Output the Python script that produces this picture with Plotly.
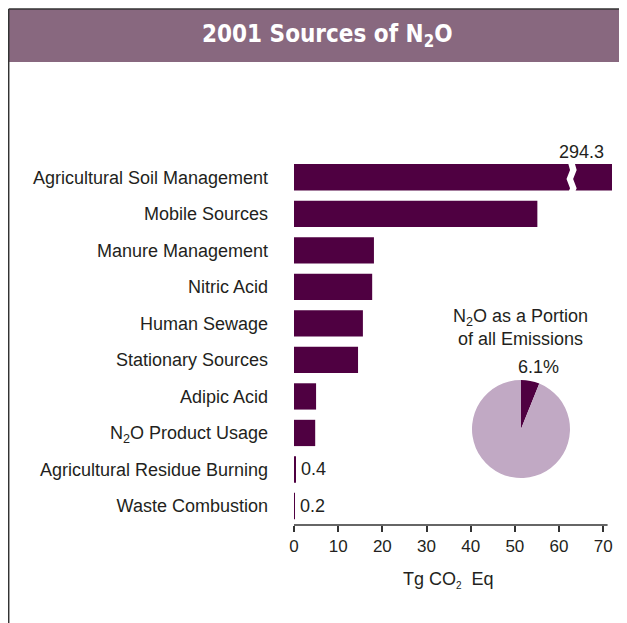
import plotly.graph_objects as go

categories = ["Agricultural Soil Management", "Mobile Sources", "Manure Management",
              "Nitric Acid", "Human Sewage", "Stationary Sources", "Adipic Acid",
              "N<sub>2</sub>O Product Usage", "Agricultural Residue Burning", "Waste Combustion"]
values = [294.3, 55.1, 18.1, 17.7, 15.6, 14.5, 5.0, 4.8, 0.4, 0.2]
bar_labels = ["294.3", "", "", "", "", "", "", "", "0.4", "0.2"]
x_ticks = [0, 10, 20, 30, 40, 50, 60, 70]
pie_labels = ["N2O", "Other"]
pie_values = [6.1, 93.9]

OFF = 8  # page body margin
W, H = 627 - OFF, 623 - OFF
L, R, T, B = 286, 15, 151, 98
XMAX = 72
BAR = "#4F0041"
LIGHT = "#C1A9C4"
TXT = "#231F20"
FONT = "Liberation Sans, Arial, sans-serif"
FS = 18

pw = W - L - R
ph = H - T - B
def px2paper_x(p):  # p = screen pixel
    return (p - OFF - L) / pw
def px2paper_y(p):
    return (H - B - (p - OFF)) / ph

ypos = list(range(len(categories)))
disp = [min(v, XMAX) for v in values]

fig = go.Figure()
fig.add_trace(go.Bar(x=disp, y=ypos, orientation="h", marker=dict(color=BAR, line=dict(width=0)),
                     width=0.72, hoverinfo="skip", showlegend=False))

fig.add_trace(go.Pie(values=pie_values, labels=pie_labels, sort=False, direction="clockwise",
                     rotation=0, marker=dict(colors=[BAR, LIGHT], line=dict(width=0)),
                     textinfo="none", hoverinfo="skip", showlegend=False,
                     domain=dict(x=[px2paper_x(472), px2paper_x(570)],
                                 y=[px2paper_y(478), px2paper_y(380)])))

ann = []
for i, (v, t) in enumerate(zip(disp, bar_labels)):
    if not t:
        continue
    if values[i] > XMAX:
        ann.append(dict(x=v, y=i, xref="x", yref="y", text=t, showarrow=False,
                        xanchor="right", yanchor="bottom", xshift=-6, yshift=13,
                        font=dict(size=FS, color=TXT, family=FONT)))
    else:
        ann.append(dict(x=v, y=i, xref="x", yref="y", text=t, showarrow=False,
                        xanchor="left", yanchor="middle", xshift=3,
                        font=dict(size=FS, color=TXT, family=FONT)))

# title band text
ann.append(dict(x=px2paper_x(327), y=px2paper_y(35), xref="paper", yref="paper",
                text="<b>2001 Sources of N<sub>2</sub>O</b>", showarrow=False,
                xanchor="center", yanchor="middle",
                font=dict(size=24, color="white", family="DejaVu Sans Condensed, sans-serif")))
# pie title
ann.append(dict(x=px2paper_x(520), y=px2paper_y(327), xref="paper", yref="paper",
                text="N<sub>2</sub>O as a Portion<br>of all Emissions", showarrow=False,
                xanchor="center", yanchor="middle", align="center",
                font=dict(size=FS, color=TXT, family=FONT)))
ann.append(dict(x=px2paper_x(538), y=px2paper_y(367), xref="paper", yref="paper",
                text="6.1%", showarrow=False, xanchor="center", yanchor="middle",
                font=dict(size=FS, color=TXT, family=FONT)))
# x axis title
ann.append(dict(x=px2paper_x(448), y=px2paper_y(580), xref="paper", yref="paper",
                text="Tg CO<sub><span style='font-size:10px'>2</span></sub>  Eq", showarrow=False,
                xanchor="center", yanchor="middle",
                font=dict(size=FS, color=TXT, family=FONT)))

shapes = [
    dict(type="rect", xref="paper", yref="paper", x0=px2paper_x(8), x1=px2paper_x(640),
         y0=px2paper_y(62), y1=px2paper_y(9), fillcolor="#88687F", line=dict(width=0), layer="below"),
    dict(type="line", xref="paper", yref="paper", x0=px2paper_x(8.7), x1=px2paper_x(640),
         y0=px2paper_y(9), y1=px2paper_y(9), line=dict(color="#333333", width=1.5)),
    dict(type="line", xref="paper", yref="paper", x0=px2paper_x(8.7), x1=px2paper_x(8.7),
         y0=px2paper_y(9), y1=px2paper_y(640), line=dict(color="#333333", width=1.5)),
    # axis line
    dict(type="line", xref="x", yref="paper", x0=0, x1=71, y0=0, y1=0,
         line=dict(color="#333333", width=1.5)),
]
# break marker on the clipped bar
xb = 61.8
zig = (f"M {xb},-0.5 L {xb+0.7},-0.2 L {xb-0.1},0.05 L {xb+0.7},0.3 L {xb},0.5 "
       f"L {xb+1.5},0.5 L {xb+2.2},0.3 L {xb+1.4},0.05 L {xb+2.2},-0.2 L {xb+1.5},-0.5 Z")
shapes.append(dict(type="path", xref="x", yref="y", path=zig, fillcolor="white",
                   line=dict(width=0), layer="above"))

fig.update_layout(
    width=W, height=H, margin=dict(l=L, r=R, t=T, b=B, autoexpand=False),
    paper_bgcolor="white", plot_bgcolor="white",
    xaxis=dict(range=[0, XMAX], tickvals=x_ticks, showgrid=False, zeroline=False,
               showline=False, ticks="outside", ticklen=6, tickwidth=1.5, tickcolor="#333333",
               tickfont=dict(size=17, color=TXT, family=FONT), fixedrange=True),
    yaxis=dict(range=[len(categories) - 0.48, -0.5], tickvals=ypos, ticktext=categories,
               showgrid=False, zeroline=False, showline=False, ticks="",
               ticklabelstandoff=25,
               tickfont=dict(size=FS, color=TXT, family=FONT), fixedrange=True),
    annotations=ann, shapes=shapes, bargap=0.28,
)

fig.write_html("out.html")
